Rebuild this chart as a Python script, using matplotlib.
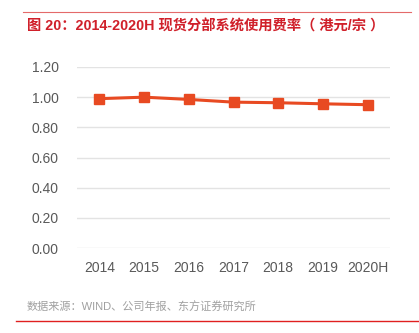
import matplotlib
matplotlib.use("Agg")
import matplotlib.pyplot as plt
from matplotlib.lines import Line2D

plt.rcParams['font.family'] = ['Liberation Sans', 'Noto Sans CJK SC', 'DejaVu Sans']

years = ["2014", "2015", "2016", "2017", "2018", "2019", "2020H"]
fee = [0.99, 1.00, 0.985, 0.967, 0.963, 0.956, 0.95]
yticks = [0.0, 0.2, 0.4, 0.6, 0.8, 1.0, 1.2]

fig = plt.figure(figsize=(4.19, 3.33), dpi=100)
ax = fig.add_axes([77/419, 1-248/333, (390-77)/419, (248-67)/333])

xs = list(range(len(years)))
ax.plot(xs, fee, color="#E84A22", lw=2.2, marker="s", ms=6.5,
        markerfacecolor="#E84A22", markeredgecolor="#E84A22", zorder=3)

ax.set_xlim(-0.5, len(years) - 0.5)
ax.set_ylim(0, 1.2)
ax.set_yticks(yticks)
ax.set_yticklabels([f"{v:.2f}" for v in yticks])
ax.set_xticks(xs)
ax.set_xticklabels(years)
ax.tick_params(axis="both", length=0, labelsize=10, labelcolor="#595959")
ax.tick_params(axis="y", pad=13)
ax.tick_params(axis="x", pad=9)
ax.grid(axis="y", color="#E3E3E3", lw=1)
ax.set_axisbelow(True)
for s in ax.spines.values():
    s.set_visible(False)

# header / footer rules and texts
fig.add_artist(Line2D([23/419, 411/419], [1-12/333, 1-12/333], color="#E46A6A", lw=0.8))
fig.text(27/419, 1-26/333, "图 20：2014-2020H 现货分部系统使用费率（ 港元/宗 ）",
         color="#D0202A", fontsize=10.3, fontweight="bold", va="center", ha="left")
fig.text(27/419, 1-307/333, "数据来源：WIND、公司年报、东方证券研究所",
         color="#A0A0A0", fontsize=8, va="center", ha="left")
fig.add_artist(Line2D([16/419, 1.0], [1-321/333, 1-321/333], color="#E02020", lw=1.0))

fig.savefig("out.png", dpi=100)
